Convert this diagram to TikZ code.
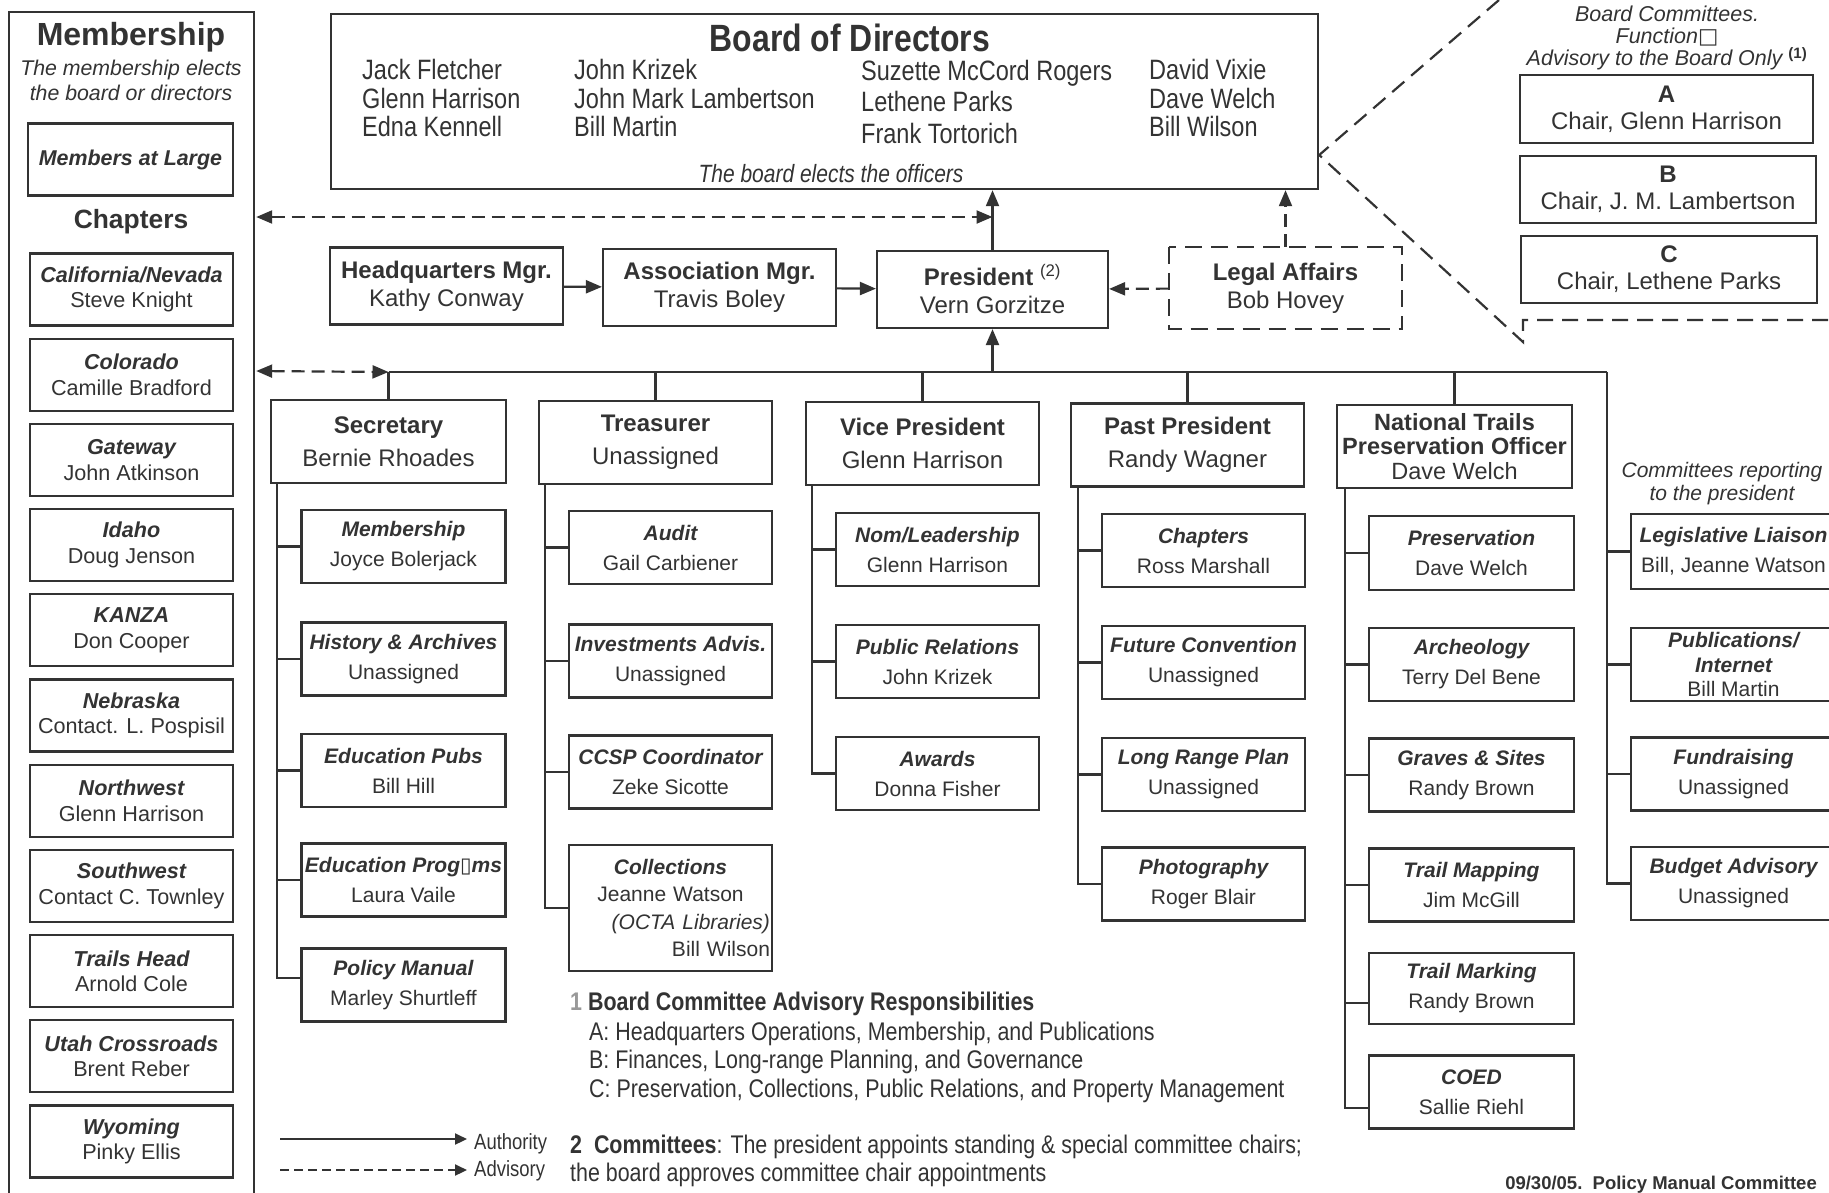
\documentclass[tikz,border=0pt]{standalone}
\usepackage{fontspec}
\setmainfont{Liberation Sans}
\newfontfamily\narrowfont[FakeStretch=0.84]{Liberation Sans}
\newfontfamily\glyphfont{DejaVu Sans}
\usetikzlibrary{arrows.meta}
\definecolor{ink}{gray}{0.2}
\newcommand\fsz[2]{\fontsize{#1}{#2}\selectfont}
\newcommand\cmtitle[1]{{\bfseries\itshape #1}}

\begin{document}
\begin{tikzpicture}[
  x=1pt,y=-1pt,
  line join=miter,
  >={Triangle[length=16pt,width=13pt]},
  every node/.style={text=ink},
  frame/.style={draw=ink,line width=2.2pt},
  link/.style={draw=ink,line width=2.2pt},
  advice/.style={link,dash pattern=on 13pt off 7pt},
  chapterbox/.style={frame,minimum width=203pt,minimum height=72pt,inner sep=1pt,align=center,font=\fsz{21.6}{25.5}},
  officerbox/.style={frame,minimum width=233pt,minimum height=77pt,inner sep=1pt,align=center,font=\fsz{24}{28}},
  cmtebox/.style={frame,minimum width=204pt,minimum height=73pt,inner sep=1pt,align=center,font=\fsz{21}{30}},
  boardcmte/.style={frame,minimum width=296pt,minimum height=67pt,inner sep=1pt,align=center,font=\fsz{24}{27}},
  note/.style={anchor=west,inner sep=0pt,font=\narrowfont\fsz{25.5}{28}}
]
\useasboundingbox (0,0) rectangle (1829,1192);

% Membership column
\node[frame,anchor=north west,minimum width=245pt,minimum height=1200pt,inner sep=0pt] (members) at (8,11) {};
\node[font=\fsz{32}{36}\bfseries] (memtitle) at (131,37) {Membership};
\node[font=\fsz{21.3}{25}\itshape,align=center] (memnote) at (131,80.5) {The membership elects\\the board or directors};
\node[chapterbox,minimum width=205pt,font=\fsz{21.4}{25}\bfseries\itshape] (large) at (130.5,159.5) {Members at Large};
\node[font=\fsz{26.4}{30}\bfseries] (chapters) at (131,222) {Chapters};
\node[chapterbox] (calnev) at (131.5,289.5) {\cmtitle{California/Nevada}\\Steve Knight};
\node[chapterbox] (colorado) at (131.5,374.7) {\cmtitle{Colorado}\\Camille Bradford};
\node[chapterbox] (gateway) at (131.5,459.9) {\cmtitle{Gateway}\\John Atkinson};
\node[chapterbox] (idaho) at (131.5,545.1) {\cmtitle{Idaho}\\Doug Jenson};
\node[chapterbox] (kanza) at (131.5,630.3) {\cmtitle{KANZA}\\Don Cooper};
\node[chapterbox] (nebraska) at (131.5,715.5) {\cmtitle{Nebraska}\\Contact. L. Pospisil};
\node[chapterbox] (northwest) at (131.5,800.7) {\cmtitle{Northwest}\\Glenn Harrison};
\node[chapterbox] (southwest) at (131.5,885.9) {\cmtitle{Southwest}\\Contact C. Townley};
\node[chapterbox] (trailshead) at (131.5,971.1) {\cmtitle{Trails Head}\\Arnold Cole};
\node[chapterbox] (utah) at (131.5,1056.3) {\cmtitle{Utah Crossroads}\\Brent Reber};
\node[chapterbox] (wyoming) at (131.5,1141.5) {\cmtitle{Wyoming}\\Pinky Ellis};

% Board of directors
\node[frame,anchor=north west,minimum width=987pt,minimum height=175pt,inner sep=0pt] (board) at (330,13) {};
\node[font=\narrowfont\fsz{38}{40}\bfseries] (boardtitle) at (850,38) {Board of Directors};
\node[anchor=west,align=left,inner sep=0pt,font=\narrowfont\fsz{28}{28.5}] (bdcolA) at (362,98) {Jack Fletcher\\Glenn Harrison\\Edna Kennell};
\node[anchor=west,align=left,inner sep=0pt,font=\narrowfont\fsz{28}{28.5}] (bdcolB) at (574,98) {John Krizek\\John Mark Lambertson\\Bill Martin};
\node[anchor=west,align=left,inner sep=0pt,font=\narrowfont\fsz{28}{31.5}] (bdcolC) at (861,101.5) {Suzette McCord Rogers\\Lethene Parks\\Frank Tortorich};
\node[anchor=west,align=left,inner sep=0pt,font=\narrowfont\fsz{28}{28.5}] (bdcolD) at (1149,98) {David Vixie\\Dave Welch\\Bill Wilson};
\node[font=\narrowfont\fsz{25}{28}\itshape] (boardnote) at (831,174) {The board elects the officers};

% Board committees, advisory only
\node[font=\fsz{21.5}{22}\itshape,align=center] (bcnote) at (1667,38)
  {Board Committees.\\Function{\glyphfont\upshape □}\\Advisory to the Board Only {\upshape\bfseries\textsuperscript{(1)}}};
\node[boardcmte,minimum width=293pt,minimum height=68pt] (cmteA) at (1666.5,109) {\textbf{A}\\Chair, Glenn Harrison};
\node[boardcmte] (cmteB) at (1668,189.5) {\textbf{B}\\Chair, J. M. Lambertson};
\node[boardcmte] (cmteC) at (1669,269.5) {\textbf{C}\\Chair, Lethene Parks};
\coordinate (calltop) at (1499,0);
\coordinate (callfoot) at (1523,342);
\coordinate (callbar) at (1523,320);
\coordinate (callend) at (1829,320);
\draw[link,dash pattern=on 16pt off 9pt] (calltop) -- (board.east |- 0,155) -- (callfoot) -- (callbar) -- (callend);

% Managers and president
\node[officerbox] (hqmgr) at (446.5,286) {\textbf{Headquarters Mgr.}\\Kathy Conway};
\node[officerbox] (assocmgr) at (719.5,287.5) {\textbf{Association Mgr.}\\Travis Boley};
\node[officerbox,minimum width=231pt] (president) at (992.5,289.5) {\textbf{President} \textsuperscript{(2)}\\Vern Gorzitze};
\node[officerbox,draw=none,minimum width=231pt,minimum height=80pt] (legal) at (1285.5,288) {\textbf{Legal Affairs}\\Bob Hovey};
\draw[link,dash pattern=on 17pt off 9pt] (legal.north west) rectangle (legal.south east);

\draw[link,->] (hqmgr) -- (assocmgr);
\draw[link,->] (assocmgr) -- (president);
\draw[advice,->] (legal) -- (president);
\draw[link,->] (president.north) -- (president.north |- board.south);
\draw[advice,->] (legal.north) -- (legal.north |- board.south);
\draw[advice,<->,shorten <=1pt] (members.east |- 0,217) -- (president.north |- 0,217);

% Officers
\node[officerbox,minimum width=235pt,minimum height=83pt,font=\fsz{24}{33}] (secretary) at (388.5,441.5) {\textbf{Secretary}\\Bernie Rhoades};
\node[officerbox,minimum height=83pt,font=\fsz{24}{33}] (treasurer) at (655.5,442.5) {\textbf{Treasurer}\\Unassigned};
\node[officerbox,minimum height=83pt,font=\fsz{24}{33}] (vicepres) at (922.5,443.5) {\textbf{Vice President}\\Glenn Harrison};
\node[officerbox,minimum height=83pt,font=\fsz{24}{33}] (pastpres) at (1187.5,445) {\textbf{Past President}\\Randy Wagner};
\node[officerbox,minimum width=235pt,minimum height=83pt,font=\fsz{23.5}{24.5}] (ntpo) at (1454.5,446.5) {\textbf{National Trails}\\\textbf{Preservation Officer}\\Dave Welch};

\coordinate (busleft) at (secretary.north |- 0,372);
\coordinate (busright) at (1607,372);
\draw[link] (busleft) -- (busright);
\draw[link,->] (president.south |- busleft) -- (president.south);
\draw[advice,<->,shorten <=1pt] (members.east |- 0,371) -- (busleft);
\draw[link] (busleft) -- (secretary.north);
\draw[link] (treasurer.north |- busleft) -- (treasurer.north);
\draw[link] (vicepres.north |- busleft) -- (vicepres.north);
\draw[link] (pastpres.north |- busleft) -- (pastpres.north);
\draw[link] (ntpo.north |- busleft) -- (ntpo.north);

% Secretary committees
\node[cmtebox] (secmember) at (403.5,546.5) {\cmtitle{Membership}\\Joyce Bolerjack};
\node[cmtebox] (sechistory) at (403.5,659) {\cmtitle{History \& Archives}\\Unassigned};
\node[cmtebox] (secedpubs) at (403.5,770.5) {\cmtitle{Education Pubs}\\Bill Hill};
\node[cmtebox] (secedprog) at (403.5,880) {\cmtitle{Education Prog{\glyphfont\mdseries\upshape ▯}ms}\\Laura Vaile};
\node[cmtebox] (secpolicy) at (403.5,985) {\cmtitle{Policy Manual}\\Marley Shurtleff};
\coordinate (sectrunk) at ([xshift=7pt]secretary.south west);
\draw[link] (sectrunk) |- ([yshift=7pt]secpolicy.west);
\draw[link] (sectrunk |- secmember.west) -- (secmember.west);
\draw[link] (sectrunk |- sechistory.west) -- (sechistory.west);
\draw[link] (sectrunk |- secedpubs.west) -- (secedpubs.west);
\draw[link] (sectrunk |- secedprog.west) -- (secedprog.west);

% Treasurer committees
\node[cmtebox,minimum width=203pt] (treaudit) at (670.5,547.5) {\cmtitle{Audit}\\Gail Carbiener};
\node[cmtebox,minimum width=203pt] (treinvest) at (670.5,661) {\cmtitle{Investments Advis.}\\Unassigned};
\node[cmtebox,minimum width=203pt] (treccsp) at (670.5,772) {\cmtitle{CCSP Coordinator}\\Zeke Sicotte};
\node[cmtebox,minimum width=203pt,minimum height=126pt,text width=199pt,inner xsep=1pt,font=\fsz{21}{27.5}] (trecoll) at (670.5,908)
  {\cmtitle{Collections}\\Jeanne Watson\\\hfill\textit{(OCTA Libraries)}\\\hfill Bill Wilson};
\coordinate (tretrunk) at ([xshift=7pt]treasurer.south west);
\draw[link] (tretrunk) |- (trecoll.west);
\draw[link] (tretrunk |- treaudit.west) -- (treaudit.west);
\draw[link] (tretrunk |- treinvest.west) -- (treinvest.west);
\draw[link] (tretrunk |- treccsp.west) -- (treccsp.west);

% Vice president committees
\node[cmtebox,minimum width=203pt] (vpnom) at (937.5,549.5) {\cmtitle{Nom/Leadership}\\Glenn Harrison};
\node[cmtebox,minimum width=203pt] (vppr) at (937.5,661.5) {\cmtitle{Public Relations}\\John Krizek};
\node[cmtebox,minimum width=203pt] (vpawards) at (937.5,773.5) {\cmtitle{Awards}\\Donna Fisher};
\coordinate (vptrunk) at ([xshift=7pt]vicepres.south west);
\draw[link] (vptrunk) |- (vpawards.west);
\draw[link] (vptrunk |- vpnom.west) -- (vpnom.west);
\draw[link] (vptrunk |- vppr.west) -- (vppr.west);

% Past president committees
\node[cmtebox,minimum width=203pt] (ppchapters) at (1203.5,550.5) {\cmtitle{Chapters}\\Ross Marshall};
\node[cmtebox,minimum width=203pt] (ppfuture) at (1203.5,662.5) {\cmtitle{Future Convention}\\Unassigned};
\node[cmtebox,minimum width=203pt] (pplong) at (1203.5,774.5) {\cmtitle{Long Range Plan}\\Unassigned};
\node[cmtebox,minimum width=203pt] (ppphoto) at (1203.5,884) {\cmtitle{Photography}\\Roger Blair};
\coordinate (pptrunk) at ([xshift=8pt]pastpres.south west);
\draw[link] (pptrunk) |- (ppphoto.west);
\draw[link] (pptrunk |- ppchapters.west) -- (ppchapters.west);
\draw[link] (pptrunk |- ppfuture.west) -- (ppfuture.west);
\draw[link] (pptrunk |- pplong.west) -- (pplong.west);

% Preservation officer committees
\node[cmtebox,minimum width=205pt,minimum height=74pt] (ntpres) at (1471.5,553) {\cmtitle{Preservation}\\Dave Welch};
\node[cmtebox,minimum width=205pt] (ntarch) at (1471.5,664.5) {\cmtitle{Archeology}\\Terry Del Bene};
\node[cmtebox,minimum width=205pt] (ntgraves) at (1471.5,775) {\cmtitle{Graves \& Sites}\\Randy Brown};
\node[cmtebox,minimum width=205pt] (ntmap) at (1471.5,885) {\cmtitle{Trail Mapping}\\Jim McGill};
\node[cmtebox,minimum width=205pt,minimum height=71pt] (ntmark) at (1471.5,988.5) {\cmtitle{Trail Marking}\\Randy Brown};
\node[cmtebox,minimum width=205pt] (ntcoed) at (1471.5,1092) {\cmtitle{COED}\\Sallie Riehl};
\coordinate (nttrunk) at ([xshift=9pt]ntpo.south west);
\draw[link] (nttrunk) |- ([yshift=-16pt]ntcoed.west);
\draw[link] (nttrunk |- ntpres.west) -- (ntpres.west);
\draw[link] (nttrunk |- ntarch.west) -- (ntarch.west);
\draw[link] (nttrunk |- ntgraves.west) -- (ntgraves.west);
\draw[link] (nttrunk |- ntmap.west) -- (ntmap.west);
\draw[link] (nttrunk |- 0,1003) -- ([yshift=-14.5pt]ntmark.west);

% Committees reporting to the president
\node[font=\fsz{21}{23}\itshape,align=center] (pcnote) at (1722,483.5) {Committees reporting\\to the president};
\node[cmtebox,minimum width=205pt,minimum height=75pt] (pcleg) at (1733.5,551.5) {\cmtitle{Legislative Liaison}\\Bill, Jeanne Watson};
\node[cmtebox,minimum width=205pt,font=\fsz{21}{24.5}] (pcpub) at (1733.5,664.5) {\cmtitle{Publications/}\\\cmtitle{Internet}\\Bill Martin};
\node[cmtebox,minimum width=205pt] (pcfund) at (1733.5,774) {\cmtitle{Fundraising}\\Unassigned};
\node[cmtebox,minimum width=205pt] (pcbudget) at (1733.5,883.5) {\cmtitle{Budget Advisory}\\Unassigned};
\draw[link] (busright) |- (pcbudget.west);
\draw[link] (busright |- pcleg.west) -- (pcleg.west);
\draw[link] (busright |- pcpub.west) -- (pcpub.west);
\draw[link] (busright |- pcfund.west) -- (pcfund.west);

% Notes
\node[note,font=\narrowfont\fsz{25.5}{28}\bfseries] (noteone) at (570,1004) {{\color{black!40}1} Board Committee Advisory Responsibilities};
\node[note] (noteA) at (589,1034) {A: Headquarters Operations, Membership, and Publications};
\node[note] (noteB) at (589,1062) {B: Finances, Long-range Planning, and Governance};
\node[note] (noteC) at (589,1091) {C: Preservation, Collections, Public Relations, and Property Management};
\node[note] (notetwo) at (570,1147) {\textbf{2\ \ Committees}: The president appoints standing \& special committee chairs;};
\node[note] (notetwob) at (570,1175) {the board approves committee chair appointments};

% Legend
\coordinate (authfrom) at (280,1139);
\coordinate (authto) at (467,1139);
\coordinate (advfrom) at (280,1170);
\coordinate (advto) at (467,1170);
\draw[link,-{Triangle[length=12pt,width=11pt]}] (authfrom) -- (authto);
\draw[link,dash pattern=on 9pt off 5pt,-{Triangle[length=12pt,width=11pt]}] (advfrom) -- (advto);
\node[note,font=\narrowfont\fsz{22}{24}] (authlabel) at (474,1144) {Authority};
\node[note,font=\narrowfont\fsz{22}{24}] (advlabel) at (474,1171) {Advisory};

\node[anchor=east,inner sep=0pt,font=\fsz{18.5}{20}\bfseries] (datenote) at (1817,1185) {09/30/05.\ \ Policy Manual Committee};
\end{tikzpicture}
\end{document}
